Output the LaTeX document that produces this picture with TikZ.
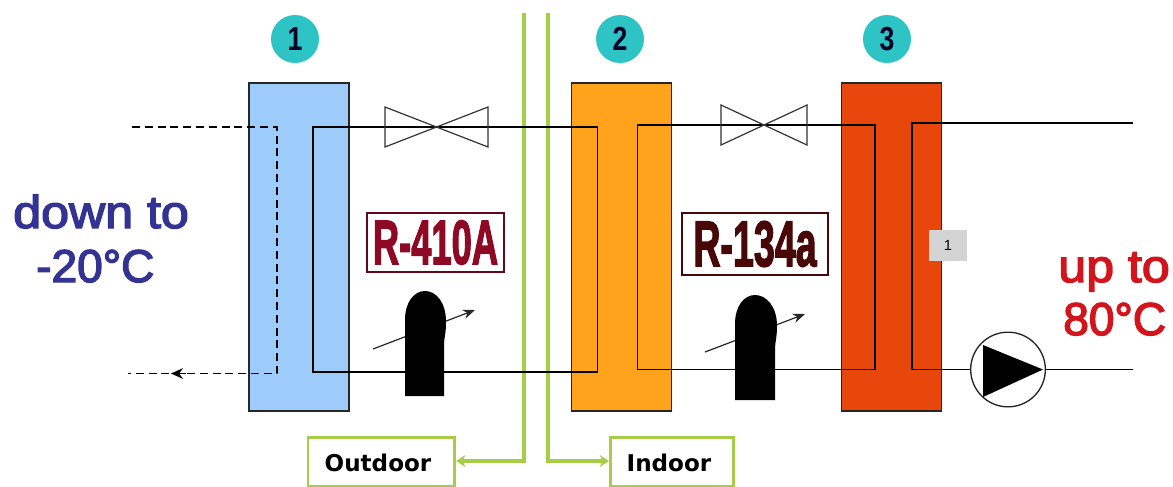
\documentclass[tikz,border=0pt]{standalone}
\usepackage{fontspec}
\setmainfont{Liberation Sans}
\newfontfamily\vfont{DejaVu Sans}
\newfontfamily\tfont[FakeBold=3]{Liberation Sans}
\newfontfamily\ffont[BoldFeatures={FakeBold=2.5}]{Liberation Sans}
\usetikzlibrary{arrows.meta}
\definecolor{teal1}{HTML}{2EC4C6}
\definecolor{leaf}{HTML}{A6CC48}
\definecolor{navy1}{HTML}{333393}
\definecolor{red1}{HTML}{D4141C}
\definecolor{wine}{HTML}{8E0A24}
\definecolor{brown1}{HTML}{480808}
\definecolor{ice}{HTML}{9DCCFB}
\definecolor{amber}{HTML}{FFA31C}
\definecolor{flame}{HTML}{E8470C}
\tikzset{
  hx/.style={draw=black!85,line width=1.1pt,inner sep=0pt,minimum width=75pt,minimum height=246pt},
  badge/.style={circle,fill=teal1,inner sep=0pt,minimum size=36pt,font=\fontsize{25}{25}\selectfont\bfseries,text=black!85!blue},
  pipe/.style={line width=1pt,black},
  dashpipe/.style={line width=1pt,black,dash pattern=on 6pt off 3.6pt},
  valve/.style={line width=.9pt,draw=black!80,fill=none},
  lamp/.style={fill=black,draw=none},
  sense/.style={line width=.9pt,black!85,-{Stealth[length=9pt,width=7pt]}},
  wire/.style={line width=2.5pt,leaf},
  wirearrow/.style={wire,-{Stealth[length=7pt,width=9pt]}},
  place/.style={draw=leaf,line width=2.2pt,fill=white,inner sep=0pt},
  placetxt/.style={font=\vfont\bfseries\fontsize{17.3}{17.3}\selectfont,inner sep=0pt},
  fluid/.style={rectangle,draw,line width=1pt,fill=white,inner sep=0pt,font=\ffont\bfseries\fontsize{47}{47}\selectfont},
  temp/.style={font=\tfont\fontsize{34.5}{34.5}\selectfont,inner sep=0pt,anchor=base west},
}
\newcommand{\narrowtxt}[1]{\scalebox{0.58}[1]{#1}}
\newcommand{\widetxt}[1]{\scalebox{1.09}[1]{#1}}
\newcommand{\slimdigit}[1]{\scalebox{0.8}[1]{#1}}
\begin{document}
\begin{tikzpicture}[x=0.75pt,y=-0.75pt]
\useasboundingbox (0,0) rectangle (1173,486);
% exchangers
\node[hx,fill=ice]   (hxa) at (299,247) {};
\node[hx,fill=amber] (hxb) at (621.5,247) {};
\node[hx,fill=flame] (hxc) at (891.5,247) {};
% badges
\node[badge] (ba) at (295,39) {\slimdigit{1}};
\node[badge] (bb) at (620,39) {\slimdigit{2}};
\node[badge] (bc) at (887,39) {\slimdigit{3}};
% named pipe points
\coordinate (dtl) at (132,127);
\coordinate (dtr) at (277,127);
\coordinate (dbr) at (277,373.5);
\coordinate (dbl) at (128,373.5);
\coordinate (dtip) at (171,373.5);
\coordinate (dtail) at (186,373.5);
\coordinate (atl) at (313,127);
\coordinate (atr) at (597.5,127);
\coordinate (abr) at (597.5,372);
\coordinate (abl) at (313,372);
\coordinate (btl) at (637.5,125);
\coordinate (btr) at (875,125);
\coordinate (bbr) at (875,369.5);
\coordinate (bbl) at (637.5,369.5);
\coordinate (ctl) at (912,123);
\coordinate (cte) at (1133,123);
\coordinate (cbe) at (1133,369.5);
\coordinate (cbl) at (912,369.5);
% green separators
\coordinate (gat) at (524,15);
\coordinate (gab) at (524,461);
\coordinate (gbt) at (548,15);
\coordinate (gbb) at (548,461);
\node[place,minimum width=110pt,minimum height=36.75pt,anchor=north west] (out) at (306.5,436) {};
\node[place,minimum width=92pt,minimum height=36.75pt,anchor=north west] (ind) at (609,436) {};
\node[placetxt] (outt) at (378,463) {Outdoor};
\node[placetxt] (indt) at (669,463) {Indoor};
\draw[wire,line cap=rect] (gat) -- (gab);
\draw[wire,line cap=rect] (gbt) -- (gbb);
\draw[wirearrow] (gab) -- (gab -| out.east);
\draw[wirearrow] (gbb) -- (gbb -| ind.west);
% pipes
\draw[dashpipe] (dtl) -- (dtr) -- (dbr) -- (dbl);
\draw[-{Stealth[length=9pt,width=8pt]},black,line width=1pt] (dtail) -- (dtip);
\draw[pipe] (abl) -- (atl) -- (atr) -- (abr) -- cycle;
\draw[pipe] (bbl) -- (btl) -- (btr) -- (bbr) -- cycle;
\draw[pipe] (cte) -- (ctl) -- (cbl) -- (cbe);
% valves
\coordinate (va) at (436.5,127);
\coordinate (vb) at (764,125);
\draw[valve] (va) -- (385,107) -- (385,147) -- (488,107) -- (488,147) -- cycle;
\draw[valve] (vb) -- (721,105) -- (721,145) -- (807,105) -- (807,145) -- cycle;
% expansion devices
\draw[sense] (373,349) -- (475,310);
\draw[sense] (705,352) -- (805,314);
\draw[lamp] (405,396) -- (405,320) .. controls (405,302) and (414,291) .. (425,291) .. controls (436,291) and (446,302) .. (446,322) .. controls (446,334) and (444,338) .. (444,345) -- (444,396) -- cycle;
\draw[lamp] (735,400) -- (735,324) .. controls (735,306) and (744,295) .. (755,295) .. controls (766,295) and (777,306) .. (777,326) .. controls (777,338) and (775,342) .. (775,349) -- (775,400) -- cycle;
% refrigerants
\node[fluid,draw=wine!70!black,text=wine,minimum width=102.75pt,minimum height=44.25pt] (ra) at (435.5,242.5) {\narrowtxt{R-410A}};
\node[fluid,draw=brown1,text=brown1,minimum width=109.5pt,minimum height=46.5pt] (rb) at (755,244) {\scalebox{0.6}[1.03]{R-134a}};
% pump
\node[circle,draw=black!85,line width=1pt,fill=white,minimum size=56pt,inner sep=0pt] (pump) at (1008,369.5) {};
\draw[pipe] (cbe) -- (pump.east);
\draw[pipe] (cbl) -- (pump.west);
\fill[black] (983,345) -- (1043,369.5) -- (983,397) -- cycle;
% tag
\node[fill=black!17,minimum width=28.5pt,minimum height=23pt,inner sep=0pt,font=\rmfamily\fontsize{11}{11}\selectfont] (tag) at (948,245.5) {1};
% temperatures
\node[temp,text=navy1] (cold1) at (13,228) {\widetxt{down to}};
\node[temp,text=navy1] (cold2) at (36,282) {-20°C};
\node[temp,text=red1] (hot1) at (1058,282) {\widetxt{up to}};
\node[temp,text=red1] (hot2) at (1063,335) {80°C};
\end{tikzpicture}
\end{document}
